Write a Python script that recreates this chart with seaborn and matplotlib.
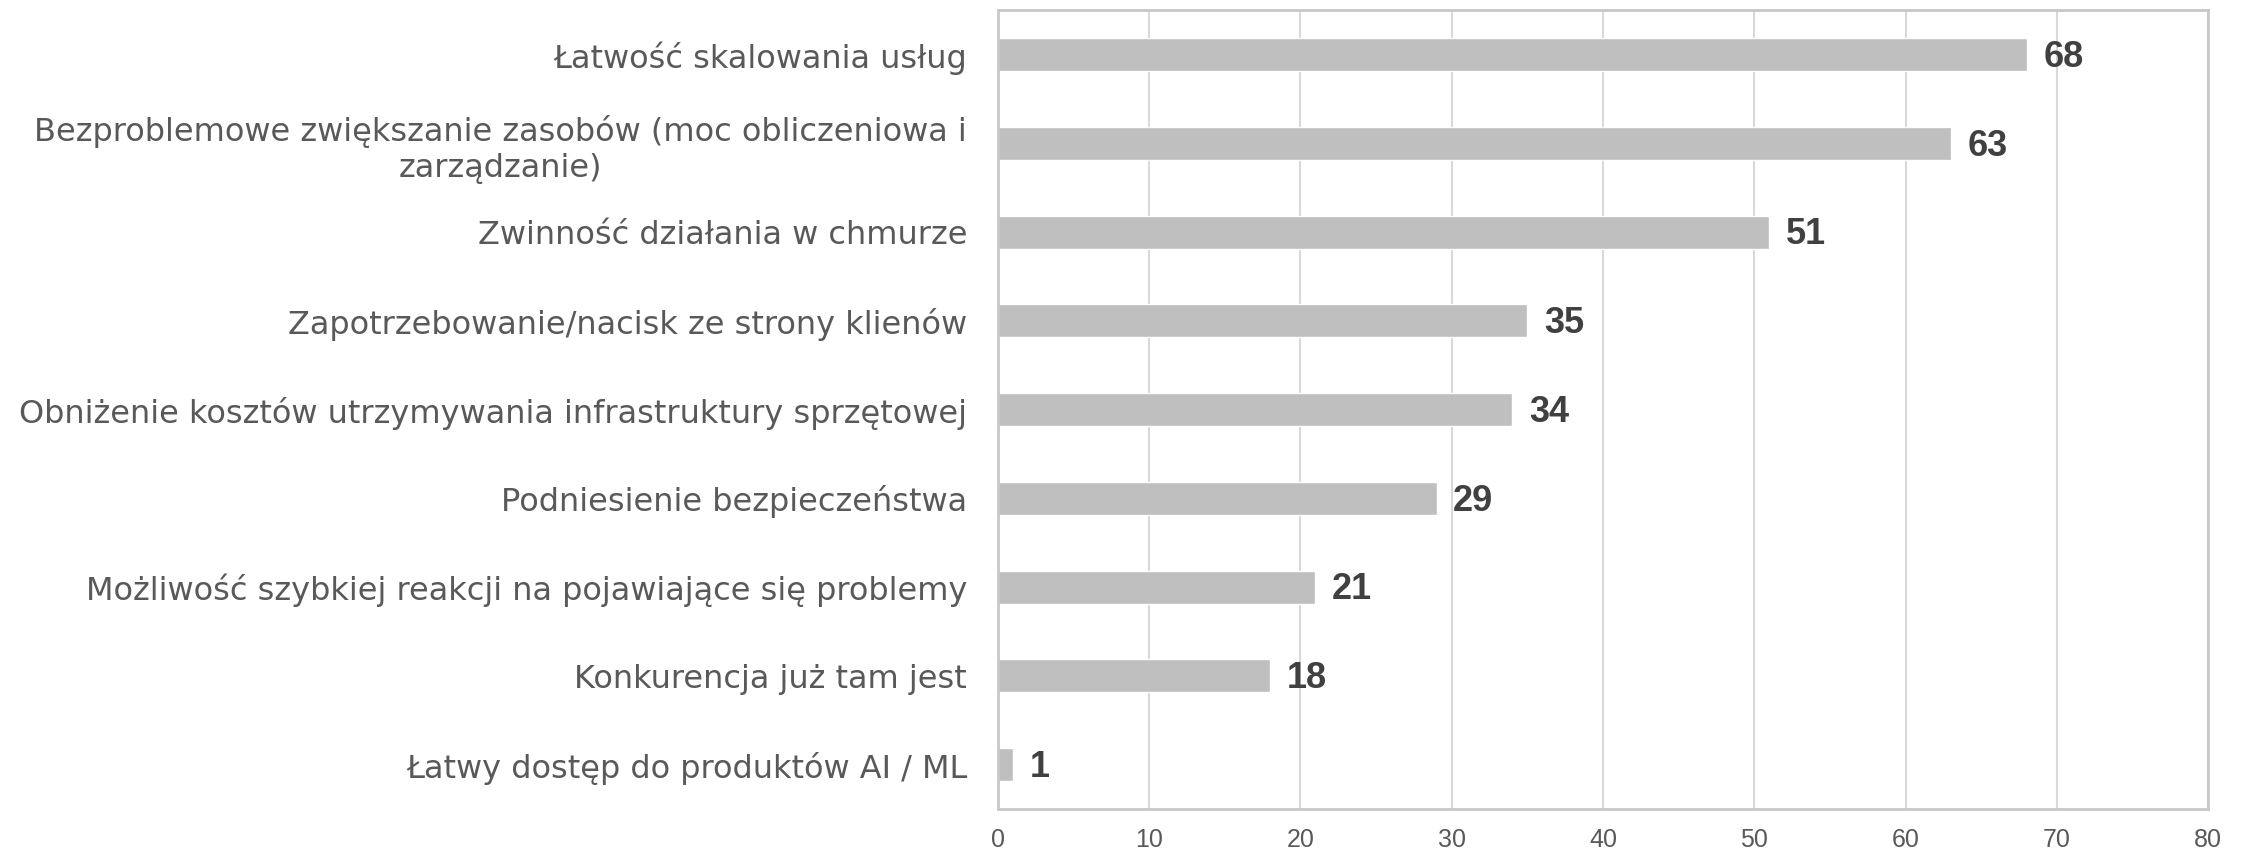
import pandas as pd
import matplotlib.pyplot as plt
import seaborn as sns

# Data
categories = [
    'Łatwość skalowania usług',
    'Bezproblemowe zwiększanie zasobów (moc obliczeniowa i\nzarządzanie)',
    'Zwinność działania w chmurze',
    'Zapotrzebowanie/nacisk ze strony klienów',
    'Obniżenie kosztów utrzymywania infrastruktury sprzętowej',
    'Podniesienie bezpieczeństwa',
    'Możliwość szybkiej reakcji na pojawiające się problemy',
    'Konkurencja już tam jest',
    'Łatwy dostęp do produktów AI / ML',
]
counts = [68, 63, 51, 35, 34, 29, 21, 18, 1]
x_ticks = [0, 10, 20, 30, 40, 50, 60, 70, 80]

data = pd.DataFrame({'kategoria': categories, 'liczba': counts})

sns.set_style('white')
plt.rcParams['font.family'] = ['DejaVu Sans']

fig, ax = plt.subplots(figsize=(22.42, 8.57), dpi=100)
fig.subplots_adjust(left=0.445, right=0.985, top=0.988, bottom=0.056)

sns.barplot(data=data, x='liczba', y='kategoria', orient='h', color='#bfbfbf',
            saturation=1, width=0.37, ax=ax)

# Value labels next to the bars
for i, v in enumerate(counts):
    ax.annotate(str(v), xy=(v, i), xytext=(12, -2), textcoords='offset points',
                ha='left', va='center', fontsize=26, fontweight='bold',
                color='#404040', family='Liberation Sans')

ax.set_xlim(0, 80)
ax.set_ylim(8.5, -0.5)
ax.set_xticks(x_ticks)
ax.set_xlabel('')
ax.set_ylabel('')

ax.grid(axis='x', color='#d9d9d9', linewidth=1.5)
ax.set_axisbelow(True)
for s in ax.spines.values():
    s.set_color('#c8c8c8')
    s.set_linewidth(2)

ax.tick_params(axis='y', length=0, pad=22, labelsize=23, labelcolor='#595959')
ax.tick_params(axis='x', length=0, pad=14, labelsize=18, labelcolor='#595959')
for lbl in ax.get_xticklabels():
    lbl.set_family('Liberation Sans')
for lbl in ax.get_yticklabels():
    lbl.set_multialignment('center')

plt.savefig('out.png', dpi=100)
